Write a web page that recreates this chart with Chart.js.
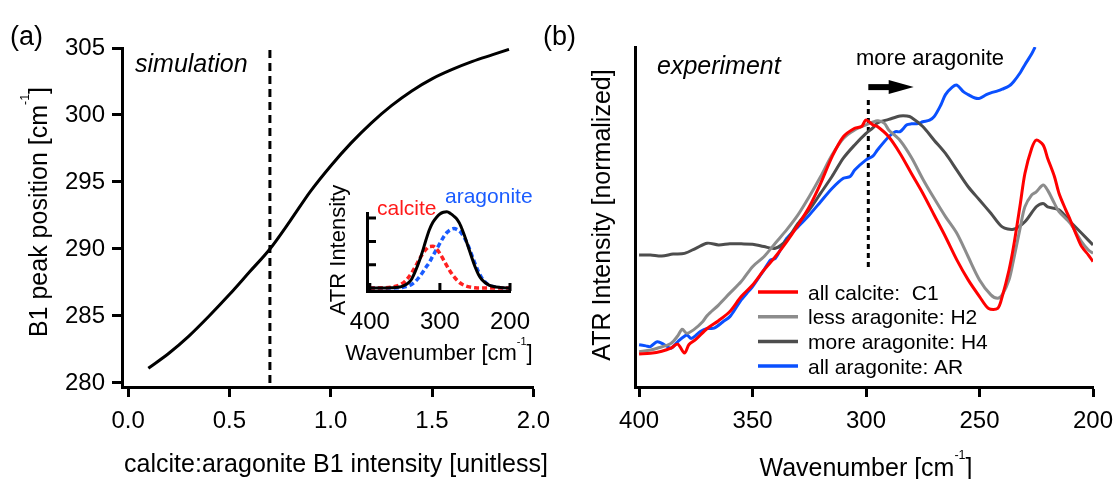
<!DOCTYPE html>
<html lang="en">
<head>
<meta charset="UTF-8">
<title>B1 peak position: simulation and experiment</title>
<script src="https://cdn.jsdelivr.net/npm/chart.js@4"></script>
<style>
  html, body { margin: 0; padding: 0; background: #fff; }
  #wrap { position: relative; width: 1115px; height: 479px; overflow: hidden; }
  canvas { position: absolute; top: 0; }
  #simChart { left: 0; }
  #expChart { left: 530px; }
  #insetChart { left: 315px; top: 170px; }
</style>
</head>
<body>
<div id="wrap">
  <canvas id="simChart" width="560" height="479"></canvas>
  <canvas id="expChart" width="620" height="479"></canvas>
  <canvas id="insetChart" width="230" height="200"></canvas>
</div>
<script>
// ---- (a) simulation ----
const simRatio = [0.1, 0.2, 0.3, 0.4, 0.5, 0.6, 0.7, 0.8, 0.9, 1.0, 1.1, 1.2, 1.3, 1.4, 1.5, 1.6, 1.7, 1.8, 1.88];
const simPeak  = [281.1, 282.2, 283.5, 285.0, 286.6, 288.3, 290.0, 292.1, 294.3, 296.2, 297.9, 299.4, 300.7, 301.8, 302.7, 303.4, 304.0, 304.5, 304.9];
const simMarker = 0.7;
const simTicksX = [0, 0.5, 1, 1.5, 2];
const simTicksY = [280, 285, 290, 295, 300, 305];

// ---- inset: model bands ----
const insetWn = [400, 390, 380, 370, 360, 355, 350, 345, 340, 335, 330, 325, 320, 315, 310, 305, 300, 295, 290, 285, 280, 275, 270, 265, 260, 255, 250, 245, 240, 230, 220, 210, 200];
const insetCalcite   = [0, 0, 0.01, 0.03, 0.10, 0.17, 0.28, 0.45, 0.66, 0.92, 1.20, 1.45, 1.65, 1.78, 1.79, 1.68, 1.48, 1.22, 0.95, 0.70, 0.49, 0.32, 0.19, 0.11, 0.06, 0.03, 0.01, 0, 0, 0, 0, 0, 0];
const insetAragonite = [0, 0, 0, 0, 0.01, 0.02, 0.05, 0.09, 0.16, 0.28, 0.45, 0.65, 0.88, 1.10, 1.38, 1.65, 1.92, 2.18, 2.38, 2.50, 2.55, 2.50, 2.38, 2.15, 1.85, 1.45, 1.05, 0.70, 0.42, 0.12, 0.04, 0.01, 0];
const insetTotal     = [0, 0, 0, 0.01, 0.03, 0.06, 0.12, 0.22, 0.40, 0.72, 1.10, 1.55, 2.05, 2.50, 2.82, 3.03, 3.18, 3.25, 3.27, 3.20, 3.08, 2.92, 2.65, 2.25, 1.80, 1.35, 0.92, 0.58, 0.35, 0.12, 0.04, 0.01, 0];
const insetTicksX = [400, 300, 200];
const insetTicksY = [1, 2, 3];

// ---- (b) experiment ----
const c1Wn  = [400, 395, 390, 386, 383, 380, 378, 375, 370, 365, 360, 355, 350, 345, 340, 335, 330, 325, 320, 315, 310, 305, 302, 300, 297, 295, 290, 285, 280, 275, 270, 265, 260, 255, 250, 246, 242, 240, 237, 235, 232, 230, 227, 225, 222, 220, 217, 215, 212, 210, 207, 205, 202, 200];
const c1Int = [0.097, 0.099, 0.105, 0.114, 0.126, 0.100, 0.125, 0.140, 0.172, 0.195, 0.222, 0.266, 0.300, 0.344, 0.383, 0.427, 0.476, 0.530, 0.599, 0.677, 0.736, 0.761, 0.766, 0.785, 0.771, 0.766, 0.736, 0.687, 0.628, 0.570, 0.506, 0.442, 0.374, 0.315, 0.266, 0.231, 0.231, 0.266, 0.344, 0.413, 0.540, 0.628, 0.702, 0.726, 0.712, 0.673, 0.619, 0.570, 0.521, 0.491, 0.442, 0.413, 0.388, 0.369];
const h2Wn  = [400, 395, 392, 386, 383, 381, 379, 376, 372, 370, 365, 360, 355, 350, 345, 340, 335, 330, 325, 320, 315, 310, 305, 300, 295, 292, 290, 285, 280, 275, 270, 265, 260, 255, 250, 245, 242, 240, 237, 235, 232, 230, 227, 225, 222, 220, 217, 215, 210, 205, 202, 200];
const h2Int = [0.104, 0.109, 0.114, 0.128, 0.150, 0.170, 0.158, 0.168, 0.192, 0.210, 0.241, 0.276, 0.310, 0.354, 0.383, 0.423, 0.462, 0.506, 0.560, 0.619, 0.682, 0.731, 0.756, 0.771, 0.783, 0.776, 0.756, 0.725, 0.675, 0.612, 0.555, 0.501, 0.452, 0.383, 0.315, 0.271, 0.261, 0.271, 0.315, 0.374, 0.471, 0.530, 0.565, 0.574, 0.594, 0.579, 0.540, 0.516, 0.481, 0.427, 0.403, 0.393];
const h4Wn  = [400, 395, 390, 385, 380, 375, 370, 365, 360, 355, 350, 345, 340, 335, 330, 325, 320, 315, 310, 305, 300, 297, 295, 290, 285, 282, 280, 275, 270, 265, 260, 255, 250, 245, 240, 235, 230, 225, 222, 220, 215, 210, 205, 200];
const h4Int = [0.388, 0.388, 0.385, 0.391, 0.393, 0.408, 0.423, 0.418, 0.421, 0.421, 0.420, 0.413, 0.408, 0.432, 0.481, 0.521, 0.570, 0.619, 0.673, 0.712, 0.746, 0.762, 0.777, 0.787, 0.797, 0.797, 0.793, 0.766, 0.726, 0.687, 0.638, 0.589, 0.550, 0.511, 0.471, 0.464, 0.486, 0.530, 0.540, 0.530, 0.521, 0.486, 0.452, 0.418];
const arWn  = [400, 397, 395, 392, 389, 386, 383, 379, 377, 373, 370, 367, 363, 360, 357, 355, 352, 350, 345, 342, 340, 337, 335, 330, 325, 320, 315, 310, 307, 305, 300, 297, 295, 290, 287, 285, 282, 280, 277, 275, 272, 270, 267, 265, 262, 260, 257, 255, 252, 250, 247, 245, 242, 240, 237, 235, 232, 230, 227, 225.5];
const arInt = [0.124, 0.121, 0.119, 0.133, 0.125, 0.114, 0.133, 0.153, 0.143, 0.163, 0.172, 0.173, 0.192, 0.207, 0.236, 0.256, 0.280, 0.295, 0.344, 0.374, 0.378, 0.413, 0.437, 0.471, 0.506, 0.545, 0.584, 0.614, 0.619, 0.638, 0.668, 0.679, 0.697, 0.736, 0.751, 0.751, 0.771, 0.774, 0.775, 0.780, 0.785, 0.795, 0.830, 0.860, 0.882, 0.888, 0.868, 0.860, 0.850, 0.849, 0.860, 0.865, 0.871, 0.876, 0.885, 0.898, 0.925, 0.948, 0.980, 1.0];
const sampleLabels = ['all calcite:  C1', 'less aragonite: H2', 'more aragonite: H4', 'all aragonite: AR'];
const expTicksX = [400, 350, 300, 250, 200];
const markerWn = 299, markerLow = 0.353, markerHigh = 0.85;
const arrowFromWn = 299, arrowToWn = 279, arrowLevel = 0.882;

const FONT = "'Liberation Sans', Arial, sans-serif";
Chart.defaults.font.family = FONT;
Chart.defaults.font.size = 24;
Chart.defaults.color = '#000';
Chart.defaults.animation = false;
Chart.defaults.plugins.legend.display = false;
Chart.defaults.plugins.tooltip.enabled = false;
Chart.defaults.elements.point.radius = 0;

const pts = (xs, ys) => xs.map((x, i) => ({ x: x, y: ys[i] }));

// text with optional superscript parts; y is the middle of the capitals
function drawText(ctx, it) {
  const parts = it.parts || [[it.text, false]];
  const size = it.size || 25;
  const style = it.italic ? 'italic ' : '';
  ctx.save();
  ctx.translate(it.x, it.y);
  if (it.rotate) ctx.rotate(it.rotate);
  ctx.fillStyle = it.color || '#000';
  ctx.textBaseline = 'alphabetic';
  ctx.textAlign = 'left';
  const widths = parts.map(([t, sup]) => {
    ctx.font = style + (sup ? size * 0.5 : size) + 'px ' + FONT;
    return ctx.measureText(t).width;
  });
  const total = widths.reduce((a, b) => a + b, 0);
  let x = it.align === 'left' ? 0 : -total / 2;
  parts.forEach(([t, sup], i) => {
    ctx.font = style + (sup ? size * 0.5 : size) + 'px ' + FONT;
    ctx.fillText(t, x, sup ? -size * 0.34 : size * 0.36);
    x += widths[i];
  });
  ctx.restore();
}

function textLayer(items) {
  return { id: 'textLayer', afterDraw(chart) { items.forEach(it => drawText(chart.ctx, it)); } };
}

const outerGrid = { display: true, drawOnChartArea: false, tickLength: 10, tickWidth: 3, tickColor: '#000' };
const axisBorder = { display: true, width: 3, color: '#000' };

// ---- (a) ----
new Chart(document.getElementById('simChart'), {
  type: 'line',
  data: {
    datasets: [
      { data: pts(simRatio, simPeak), borderColor: '#000', borderWidth: 3, cubicInterpolationMode: 'monotone' },
      { data: pts([simMarker, simMarker], [280, 305]), borderColor: '#000', borderWidth: 3, borderDash: [8, 5] }
    ]
  },
  options: {
    responsive: false,
    devicePixelRatio: 1,
    layout: { padding: { top: 48, right: 25, left: 0, bottom: 0 } },
    scales: {
      x: {
        type: 'linear', min: -0.03, max: 2.0,
        afterBuildTicks: s => { s.ticks = simTicksX.map(v => ({ value: v })); },
        afterFit: s => { s.height = 92; },
        ticks: { padding: 10, callback: v => v.toFixed(1) },
        grid: outerGrid, border: axisBorder
      },
      y: {
        type: 'linear', min: 279.7, max: 305,
        afterBuildTicks: s => { s.ticks = simTicksY.map(v => ({ value: v })); },
        afterFit: s => { s.width = 122; },
        ticks: { padding: 7 },
        grid: outerGrid, border: axisBorder
      }
    }
  },
  plugins: [textLayer([
    { text: '(a)', x: 10, y: 35, size: 27, align: 'left' },
    { text: 'simulation', x: 135, y: 63, italic: true, align: 'left' },
    { text: 'calcite:aragonite B1 intensity [unitless]', x: 336, y: 463 },
    { parts: [['B1 peak position [cm', false], ['-1', true], [']', false]], x: 37.5, y: 212, rotate: -Math.PI / 2 }
  ])]
});

// ---- inset ----
const innerTicks = {
  id: 'innerTicks',
  afterDraw(chart) {
    const { ctx, chartArea: a, scales: { x, y } } = chart;
    ctx.save();
    ctx.strokeStyle = '#000';
    ctx.lineWidth = 3;
    ctx.beginPath();
    insetTicksX.forEach(v => { const px = x.getPixelForValue(v); ctx.moveTo(px, a.bottom); ctx.lineTo(px, a.bottom - 8); });
    insetTicksY.forEach(v => { const py = y.getPixelForValue(v); ctx.moveTo(a.left, py); ctx.lineTo(a.left + 9, py); });
    ctx.stroke();
    ctx.restore();
  }
};

new Chart(document.getElementById('insetChart'), {
  type: 'line',
  data: {
    datasets: [
      { data: pts(insetWn, insetTotal), borderColor: '#000', borderWidth: 3, cubicInterpolationMode: 'monotone', clip: false },
      { data: pts(insetWn, insetCalcite), borderColor: '#ff2020', borderWidth: 3.5, borderDash: [5, 3], cubicInterpolationMode: 'monotone', clip: false },
      { data: pts(insetWn, insetAragonite), borderColor: '#1a5cff', borderWidth: 3.5, borderDash: [5, 3], cubicInterpolationMode: 'monotone', clip: false }
    ]
  },
  options: {
    responsive: false,
    devicePixelRatio: 1,
    layout: { padding: { top: 43, right: 35, left: 0, bottom: 0 } },
    scales: {
      x: {
        type: 'linear', min: 200, max: 404, reverse: true,
        afterBuildTicks: s => { s.ticks = insetTicksX.map(v => ({ value: v })); },
        afterFit: s => { s.height = 79; },
        ticks: { padding: 9 },
        grid: { display: false }, border: axisBorder
      },
      y: {
        type: 'linear', min: -0.13, max: 3.22,
        afterFit: s => { s.width = 52; },
        ticks: { display: false },
        grid: { display: false }, border: axisBorder
      }
    }
  },
  plugins: [innerTicks, textLayer([
    { text: 'calcite', x: 62, y: 37, size: 21, color: '#ff1a1a', align: 'left' },
    { text: 'aragonite', x: 130, y: 25, size: 21, color: '#1a5cff', align: 'left' },
    { text: 'ATR Intensity', x: 22, y: 80, size: 22, rotate: -Math.PI / 2 },
    { parts: [['Wavenumber [cm', false], ['-1', true], [']', false]], x: 124, y: 182, size: 22 }
  ])]
});

// ---- (b) ----
const arrowPlugin = {
  id: 'arrow',
  afterDatasetsDraw(chart) {
    const { ctx, scales: { x, y } } = chart;
    const x0 = x.getPixelForValue(arrowFromWn), x1 = x.getPixelForValue(arrowToWn);
    const py = y.getPixelForValue(arrowLevel);
    const head = 25;
    ctx.save();
    ctx.fillStyle = '#000';
    ctx.fillRect(x0, py - 3, x1 - head - x0 + 1, 6);
    ctx.beginPath();
    ctx.moveTo(x1 - head, py - 7);
    ctx.lineTo(x1, py);
    ctx.lineTo(x1 - head, py + 7);
    ctx.closePath();
    ctx.fill();
    ctx.restore();
  }
};

const sampleLegend = {
  id: 'sampleLegend',
  afterDraw(chart) {
    const ctx = chart.ctx;
    chart.data.datasets.filter(d => d.label).forEach((d, i) => {
      const y = 292 + i * 24.7;
      ctx.save();
      ctx.strokeStyle = d.borderColor;
      ctx.lineWidth = 3.5;
      ctx.beginPath();
      ctx.moveTo(228, y);
      ctx.lineTo(268, y);
      ctx.stroke();
      ctx.restore();
      drawText(ctx, { text: d.label, x: 278, y: y, size: 21, align: 'left' });
    });
  }
};

new Chart(document.getElementById('expChart'), {
  type: 'line',
  data: {
    datasets: [
      { label: sampleLabels[0], data: pts(c1Wn, c1Int), borderColor: '#ff0000', borderWidth: 3, tension: 0.3 },
      { label: sampleLabels[1], data: pts(h2Wn, h2Int), borderColor: '#8c8c8c', borderWidth: 3, tension: 0.3 },
      { label: sampleLabels[2], data: pts(h4Wn, h4Int), borderColor: '#4d4d4d', borderWidth: 3, tension: 0.3 },
      { label: sampleLabels[3], data: pts(arWn, arInt), borderColor: '#0a50ff', borderWidth: 3, tension: 0.3 },
      { data: pts([markerWn, markerWn], [markerLow, markerHigh]), borderColor: '#000', borderWidth: 3, borderDash: [5, 4] }
    ]
  },
  options: {
    responsive: false,
    devicePixelRatio: 1,
    layout: { padding: { top: 47, right: 57, left: 0, bottom: 0 } },
    scales: {
      x: {
        type: 'linear', min: 200, max: 401.8, reverse: true,
        afterBuildTicks: s => { s.ticks = expTicksX.map(v => ({ value: v })); },
        afterFit: s => { s.height = 92; },
        ticks: { padding: 10 },
        grid: outerGrid, border: axisBorder
      },
      y: {
        type: 'linear', min: 0, max: 1,
        afterFit: s => { s.width = 105; },
        ticks: { display: false },
        grid: { display: false }, border: axisBorder
      }
    }
  },
  plugins: [arrowPlugin, sampleLegend, textLayer([
    { text: '(b)', x: 13, y: 35, size: 27, align: 'left' },
    { text: 'experiment', x: 127, y: 65, italic: true, align: 'left' },
    { text: 'more aragonite', x: 400, y: 57, size: 22 },
    { parts: [['ATR Intensity [normalized]', false]], x: 71, y: 215, rotate: -Math.PI / 2 },
    { parts: [['Wavenumber [cm', false], ['-1', true], [']', false]], x: 336, y: 467 }
  ])]
});
</script>
</body>
</html>
